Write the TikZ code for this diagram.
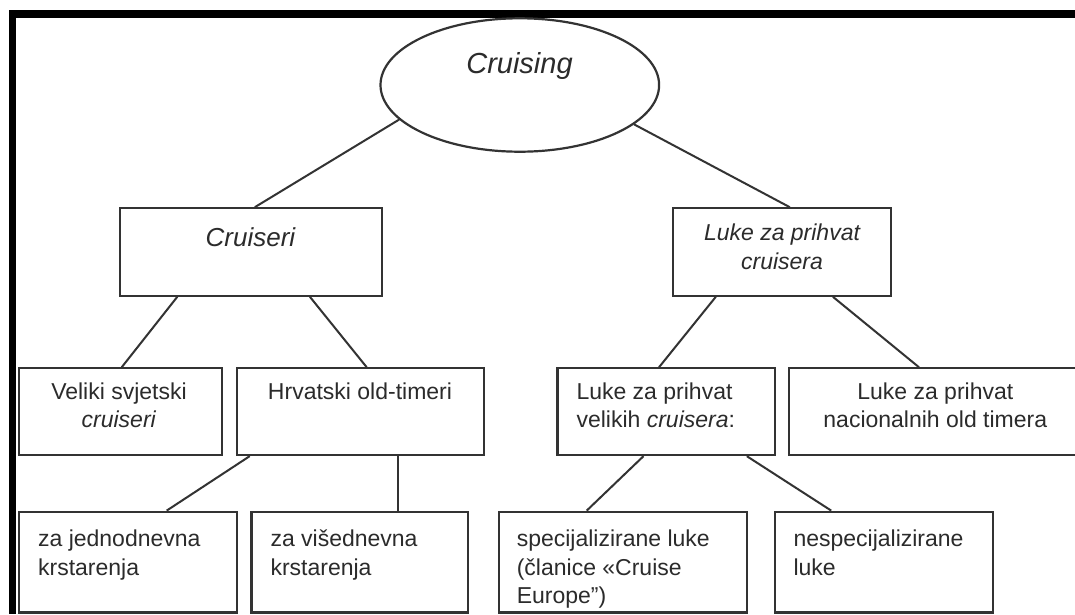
\documentclass[tikz,border=0pt]{standalone}
\usepackage{fontspec}
\setmainfont{Liberation Sans}
\usetikzlibrary{shapes.geometric}
\definecolor{linec}{HTML}{333333}
\definecolor{txtc}{HTML}{2B2B2B}
\begin{document}
\begin{tikzpicture}[x=1pt,y=-1pt,
  box/.style={draw=linec, line width=2.2pt, inner sep=0pt},
  conn/.style={draw=linec, line width=2pt},
  lbl/.style={inner sep=0pt, text=txtc, font=\fontsize{23}{28.5}\selectfont},
]
\fill[white] (0,0) rectangle (1075,614);
\useasboundingbox (0,0) rectangle (1075,614);

% frame
\fill[black] (8.6,10) rectangle (1075,18.3);
\fill[black] (8.6,10) rectangle (16.2,614);

% root
\node[box, ellipse, minimum width=278.6pt, minimum height=133.4pt] (root) at (519.8,85) {};
\node[lbl, anchor=base, font=\fontsize{29}{34}\selectfont\itshape] (rootT) at (519.5,73.3) {Cruising};

% level 1
\node[box, minimum width=262.4pt, minimum height=87.4pt] (cr) at (251,252) {};
\node[lbl, anchor=base, font=\fontsize{26}{31}\selectfont\itshape] (crT) at (250.5,246.7) {Cruiseri};

\node[box, minimum width=218.7pt, minimum height=87.4pt] (lu) at (782,252) {};
\node[lbl, anchor=north] (luT) at (782,220.75) {\parbox[t]{210pt}{\centering\itshape\strut Luke za prihvat\\cruisera}};

% level 2
\node[box, minimum width=203pt, minimum height=86.7pt] (ve) at (120.5,411.7) {};
\node[lbl, anchor=north] (veT) at (119,379.05) {\parbox[t]{200pt}{\centering\strut Veliki svjetski\\\textit{cruiseri}}};

\node[box, minimum width=247pt, minimum height=86.7pt] (hr) at (360.4,411.7) {};
\node[lbl, anchor=base] (hrT) at (360,399) {Hrvatski old-timeri};

\node[box, minimum width=217.6pt, minimum height=86.7pt] (lv) at (666.2,411.7) {};
\node[lbl, anchor=north west] (lvT) at (576.3,379.05) {\parbox[t]{190pt}{\raggedright\strut Luke za prihvat\\velikih \textit{cruisera}:}};

\node[box, minimum width=293pt, minimum height=86.7pt] (ln) at (935.3,411.7) {};
\node[lbl, anchor=north] (lnT) at (935.3,379.05) {\parbox[t]{280pt}{\centering\strut Luke za prihvat\\nacionalnih old timera}};

% level 3
\node[box, minimum width=218pt, minimum height=100.8pt] (jed) at (127.9,562.1) {};
\node[lbl, anchor=north west] (jedT) at (37.9,526.75) {\parbox[t]{200pt}{\raggedright\strut za jednodnevna\\krstarenja}};

\node[box, minimum width=216.9pt, minimum height=100.8pt] (vis) at (359.9,562.1) {};
\node[lbl, anchor=north west] (visT) at (270.3,526.75) {\parbox[t]{200pt}{\raggedright\strut za višednevna\\krstarenja}};

\node[box, minimum width=247.4pt, minimum height=100.8pt] (spe) at (623,562.1) {};
\node[lbl, anchor=north west] (speT) at (516.6,526.75) {\parbox[t]{225pt}{\raggedright\strut specijalizirane luke\\(članice «Cruise\\Europe”)}};

\node[box, minimum width=218pt, minimum height=100.8pt] (nes) at (884,562.1) {};
\node[lbl, anchor=north west] (nesT) at (793.3,526.75) {\parbox[t]{200pt}{\raggedright\strut nespecijalizirane\\luke}};

% connectors
\draw[conn] (root.196.5) -- ([xshift=3.8pt]cr.north);
\draw[conn] (root.341.6) -- ([xshift=7.8pt]lu.north);
\draw[conn] ([xshift=-73.7pt]cr.south) -- ([xshift=1.2pt]ve.north);
\draw[conn] ([xshift=58.9pt]cr.south) -- ([xshift=6.3pt]hr.north);
\draw[conn] ([xshift=-66.2pt]lu.south) -- ([xshift=-7.2pt]lv.north);
\draw[conn] ([xshift=50.9pt]lu.south) -- ([xshift=-16.3pt]ln.north);
\draw[conn] ([xshift=-110.7pt]hr.south) -- ([xshift=38.8pt]jed.north);
\draw[conn] ([xshift=37.3pt]hr.south) -- ([xshift=37.8pt]vis.north);
\draw[conn] ([xshift=-22.7pt]lv.south) -- ([xshift=-36.3pt]spe.north);
\draw[conn] ([xshift=80.6pt]lv.south) -- ([xshift=-52.8pt]nes.north);
\end{tikzpicture}
\end{document}
